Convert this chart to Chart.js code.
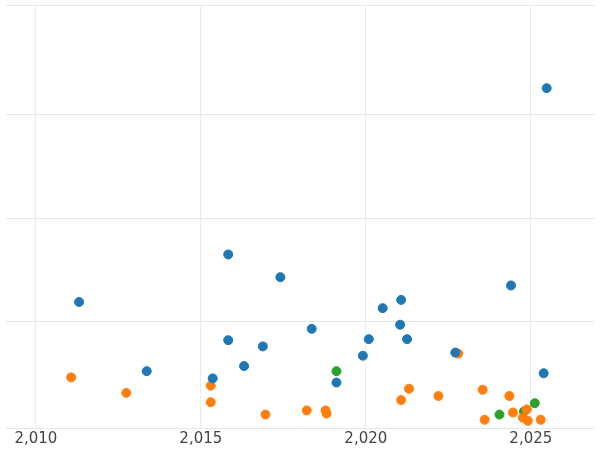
<!DOCTYPE html>
<html>
<head>
<meta charset="utf-8">
<script src="https://cdn.jsdelivr.net/npm/chart.js@4"></script>
<style>
  html, body { margin: 0; padding: 0; background: #fff; }
  #wrap { width: 600px; height: 450px; }
</style>
</head>
<body>
<div id="wrap"><canvas id="chart"></canvas></div>
<script>
const blueX = [2025.48, 2011.31, 2015.83, 2017.41, 2013.36, 2015.36, 2015.83, 2016.31, 2016.88, 2018.36,
  2019.11, 2019.91, 2020.09, 2020.51, 2021.07, 2021.04, 2021.25, 2022.71, 2024.40, 2025.39];
const blueY = [3.26, 1.19, 1.65, 1.43, 0.52, 0.45, 0.82, 0.57, 0.76, 0.93,
  0.41, 0.67, 0.83, 1.13, 1.21, 0.97, 0.83, 0.70, 1.35, 0.50];
const orangeX = [2011.07, 2012.74, 2015.30, 2015.30, 2016.96, 2018.21, 2018.78, 2018.81, 2021.07, 2021.31,
  2022.20, 2022.80, 2023.54, 2023.60, 2024.35, 2024.46, 2024.76, 2024.88, 2024.91, 2025.30];
const orangeY = [0.46, 0.31, 0.38, 0.22, 0.10, 0.14, 0.14, 0.11, 0.24, 0.35,
  0.28, 0.69, 0.34, 0.05, 0.28, 0.12, 0.07, 0.15, 0.04, 0.05];
const greenX = [2019.11, 2024.05, 2024.79, 2025.12];
const greenY = [0.52, 0.10, 0.13, 0.21];
const xTicks = [2010, 2015, 2020, 2025];

const pts = (xs, ys) => xs.map((x, i) => ({ x: x, y: ys[i] }));
const ds = (xs, ys, c) => ({
  data: pts(xs, ys), backgroundColor: c, borderColor: c,
  pointRadius: 4.5, pointHoverRadius: 4.5
});

new Chart(document.getElementById('chart'), {
  type: 'scatter',
  data: {
    datasets: [
      ds(blueX, blueY, '#1f77b4'),
      ds(orangeX, orangeY, '#ff7f0e'),
      ds(greenX, greenY, '#2ca02c')
    ]
  },
  options: {
    responsive: true,
    maintainAspectRatio: false,
    animation: false,
    layout: { padding: 0 },
    plugins: { legend: { display: false }, tooltip: { enabled: false } },
    scales: {
      x: {
        type: 'linear', min: 2009.08, max: 2026.93,
        afterBuildTicks: ax => { ax.ticks = xTicks.map(v => ({ value: v })); },
        ticks: { color: '#444', font: { family: 'DejaVu Sans', size: 15 }, padding: 2 },
        grid: { color: '#ebebeb', drawTicks: false },
        border: { display: false }
      },
      y: {
        min: -0.03, max: 4.06,
        ticks: { display: false, stepSize: 1 },
        grid: { color: '#e6e6e6', drawTicks: false },
        border: { display: false }
      }
    }
  }
});
</script>
</body>
</html>
